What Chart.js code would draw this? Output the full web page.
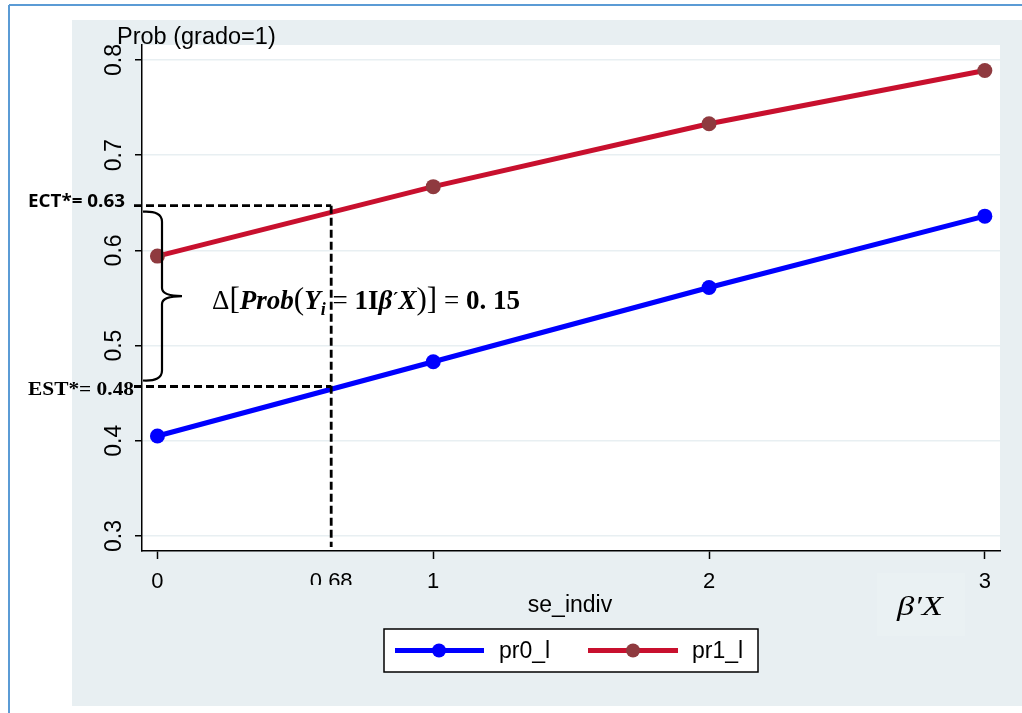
<!DOCTYPE html>
<html>
<head>
<meta charset="utf-8">
<script src="https://cdn.jsdelivr.net/npm/chart.js@4.4.1/dist/chart.umd.min.js"></script>
<style>
  html, body { margin: 0; padding: 0; background: #ffffff; }
  #wrap { width: 1022px; height: 713px; position: relative; }
</style>
</head>
<body>
<div id="wrap"><canvas id="c" width="1022" height="713"></canvas></div>
<script>
// ---- data ----
const categories = [0, 1, 2, 3];
const pr0_l = [0.405, 0.483, 0.561, 0.636];
const pr1_l = [0.594, 0.667, 0.733, 0.789];
const yTicks = [0.3, 0.4, 0.5, 0.6, 0.7, 0.8];
const xTicks = [0, 1, 2, 3];
const seriesNames = ['pr0_l', 'pr1_l'];
// annotation (drawn position vs printed labels)
const markX = 0.63;          // where the dashed vertical line sits
const markXLabel = '0.68';
const ectY = 0.647;          // dashed horizontal (upper)
const estY = 0.457;          // dashed horizontal (lower)
const ectLabel = 'ECT*= 0.63';
const estLabel = 'EST*= 0.48';

const BLUE = '#0000ff';
const RED = '#c8102e';
const RED_PT = '#8f3a3f';
const PANEL = '#e8eff2';

function fitText(ctx, text, x, y, targetW) {
  const w = ctx.measureText(text).width;
  ctx.save();
  ctx.translate(x, y);
  ctx.scale(targetW / w, 1);
  ctx.fillText(text, 0, 0);
  ctx.restore();
}

const bgPlugin = {
  id: 'bg',
  beforeDraw(chart) {
    const ctx = chart.ctx;
    const a = chart.chartArea;
    ctx.save();
    ctx.fillStyle = '#ffffff';
    ctx.fillRect(0, 0, 1022, 713);
    ctx.strokeStyle = '#5b9bd5';
    ctx.lineWidth = 2;
    ctx.beginPath();
    ctx.moveTo(9, 5); ctx.lineTo(1022, 5);
    ctx.moveTo(9, 5); ctx.lineTo(9, 713);
    ctx.stroke();
    ctx.fillStyle = PANEL;
    ctx.fillRect(72, 20, 1022 - 72, 706 - 20);
    ctx.fillStyle = '#ffffff';
    ctx.fillRect(a.left, a.top, a.right - a.left, a.bottom - a.top);
    ctx.restore();
  },
  afterDraw(chart) {
    const ctx = chart.ctx;
    const xs = chart.scales.x, ys = chart.scales.y;
    const a = chart.chartArea;
    ctx.save();
    ctx.fillStyle = '#000';
    ctx.font = '23.5px "Liberation Sans", Arial, sans-serif';
    ctx.textBaseline = 'alphabetic';
    ctx.textAlign = 'left';
    ctx.fillText('Prob (grado=1)', 117, 44);
    ctx.font = '23px "Liberation Sans", Arial, sans-serif';
    ys.ticks.forEach(t => {
      const py = ys.getPixelForValue(t.value);
      ctx.save();
      ctx.translate(121, py);
      ctx.rotate(-Math.PI / 2);
      ctx.textAlign = 'center';
      ctx.textBaseline = 'alphabetic';
      ctx.fillText(String(t.value), 0, 0);
      ctx.restore();
    });
    ctx.font = '22px "Liberation Sans", Arial, sans-serif';
    ctx.textAlign = 'center';
    xs.ticks.forEach(t => {
      ctx.fillText(String(t.value), xs.getPixelForValue(t.value), 588);
    });
    ctx.save();
    ctx.beginPath();
    ctx.rect(0, 560, 1022, 25);
    ctx.clip();
    ctx.fillText(markXLabel, xs.getPixelForValue(markX), 588);
    ctx.restore();
    ctx.font = '23px "Liberation Sans", Arial, sans-serif';
    ctx.fillText('se_indiv', 570, 612);

    const vx = xs.getPixelForValue(markX);
    const ey = ys.getPixelForValue(ectY);
    const sy = ys.getPixelForValue(estY);
    ctx.strokeStyle = '#000';
    ctx.lineWidth = 2.8;
    ctx.setLineDash([8, 4]);
    ctx.beginPath();
    ctx.moveTo(vx, ey); ctx.lineTo(vx, a.bottom - 4);
    ctx.moveTo(134, ey); ctx.lineTo(vx, ey);
    ctx.moveTo(134, sy); ctx.lineTo(vx, sy);
    ctx.stroke();
    ctx.setLineDash([]);

    const bx = 162, top = ey + 6, bot = sy - 6, mid = (top + bot) / 2;
    ctx.lineWidth = 2.2;
    ctx.beginPath();
    ctx.moveTo(143, top);
    ctx.quadraticCurveTo(bx, top - 1, bx, top + 10);
    ctx.lineTo(bx, mid - 8);
    ctx.quadraticCurveTo(bx, mid, 182, mid);
    ctx.quadraticCurveTo(bx, mid, bx, mid + 8);
    ctx.lineTo(bx, bot - 10);
    ctx.quadraticCurveTo(bx, bot + 1, 143, bot);
    ctx.stroke();

    ctx.textAlign = 'left';
    ctx.textBaseline = 'middle';
    ctx.font = 'bold 18px "Open Sans", "Liberation Sans", sans-serif';
    fitText(ctx, ectLabel, 28, 202, 97);
    ctx.font = 'bold 19px "Liberation Serif", "Times New Roman", serif';
    fitText(ctx, estLabel, 28, 390, 106);

    ctx.textBaseline = 'alphabetic';
    const S = '"Liberation Serif", "DejaVu Serif", serif';
    const runs = [
      ['27px ' + S, '\u0394', 0],
      ['31px ' + S, '[', 0],
      ['italic bold 27px ' + S, 'Prob', 0],
      ['31px ' + S, '(', 0],
      ['italic bold 27px ' + S, 'Y', 0],
      ['italic bold 18px ' + S, 'i', 6],
      ['27px ' + S, ' = ', 0],
      ['bold 27px ' + S, '1I', 0],
      ['italic bold 27px ' + S, '\u03b2', 0],
      ['bold 18px ' + S, '\u00b4', -4],
      ['italic bold 27px ' + S, 'X', 0],
      ['31px ' + S, ')]', 0],
      ['27px ' + S, ' = ', 0],
      ['bold 27px ' + S, '0. 15', 0]
    ];
    let total = 0;
    runs.forEach(r => { ctx.font = r[0]; total += ctx.measureText(r[1]).width; });
    const fx0 = 212, fw = 308, fy = 309;
    ctx.save();
    ctx.translate(fx0, fy);
    ctx.scale(fw / total, 1);
    let cx = 0;
    runs.forEach(r => {
      ctx.font = r[0];
      ctx.fillText(r[1], cx, r[2]);
      cx += ctx.measureText(r[1]).width;
    });
    ctx.restore();

    ctx.fillStyle = 'rgba(255,255,255,0.12)';
    ctx.fillRect(877, 573, 88, 63);
    ctx.fillStyle = '#000';
    ctx.font = 'italic 27px "Liberation Serif", "DejaVu Serif", serif';
    ctx.textAlign = 'left';
    fitText(ctx, '\u03b2\u2032X', 897, 615, 46);

    ctx.fillStyle = '#ffffff';
    ctx.fillRect(384, 629, 374, 43);
    ctx.strokeStyle = '#000';
    ctx.lineWidth = 1.5;
    ctx.strokeRect(384, 629, 374, 43);
    const items = [
      { x0: 395, x1: 484, px: 439, tx: 499, line: BLUE, pt: BLUE },
      { x0: 588, x1: 678, px: 633, tx: 692, line: RED, pt: RED_PT }
    ];
    items.forEach((it, i) => {
      ctx.strokeStyle = it.line;
      ctx.lineWidth = 5;
      ctx.beginPath();
      ctx.moveTo(it.x0, 650.5); ctx.lineTo(it.x1, 650.5);
      ctx.stroke();
      ctx.fillStyle = it.pt;
      ctx.beginPath();
      ctx.arc(it.px, 650.5, 7, 0, Math.PI * 2);
      ctx.fill();
      ctx.fillStyle = '#000';
      ctx.font = '23px "Liberation Sans", Arial, sans-serif';
      ctx.textBaseline = 'alphabetic';
      ctx.fillText(seriesNames[i], it.tx, 658);
    });
    ctx.restore();
  }
};

const toPts = arr => categories.map((c, i) => ({ x: c, y: arr[i] }));

new Chart(document.getElementById('c'), {
  type: 'line',
  data: {
    datasets: [
      {
        label: seriesNames[0], data: toPts(pr0_l),
        borderColor: BLUE, backgroundColor: BLUE,
        pointBackgroundColor: BLUE, pointBorderColor: BLUE,
        borderWidth: 5, pointRadius: 7.5, pointBorderWidth: 0,
        tension: 0, clip: false
      },
      {
        label: seriesNames[1], data: toPts(pr1_l),
        borderColor: RED, backgroundColor: RED,
        pointBackgroundColor: RED_PT, pointBorderColor: RED_PT,
        borderWidth: 5, pointRadius: 7.5, pointBorderWidth: 0,
        tension: 0, clip: false
      }
    ]
  },
  options: {
    responsive: false,
    animation: false,
    devicePixelRatio: 1,
    layout: { padding: { left: 72, right: 22, top: 45, bottom: 62 } },
    plugins: { legend: { display: false }, tooltip: { enabled: false } },
    scales: {
      x: {
        type: 'linear', min: -0.056, max: 3.055,
        afterBuildTicks: s => { s.ticks = xTicks.map(v => ({ value: v })); },
        afterFit: s => { s.height = 100; },
        ticks: { display: false },
        grid: { drawOnChartArea: false, drawTicks: true, tickLength: 8, tickColor: '#000', tickWidth: 1.5 },
        border: { display: true, color: '#000', width: 1.5 }
      },
      y: {
        type: 'linear', min: 0.2842, max: 0.8158,
        afterBuildTicks: s => { s.ticks = yTicks.map(v => ({ value: v })); },
        afterFit: s => { s.width = 70; },
        ticks: { display: false },
        grid: { color: PANEL, lineWidth: 1.5, drawTicks: true, tickLength: 7, tickColor: '#000', tickWidth: 1.5 },
        border: { display: true, color: '#000', width: 1.5 }
      }
    }
  },
  plugins: [bgPlugin]
});
</script>
</body>
</html>
